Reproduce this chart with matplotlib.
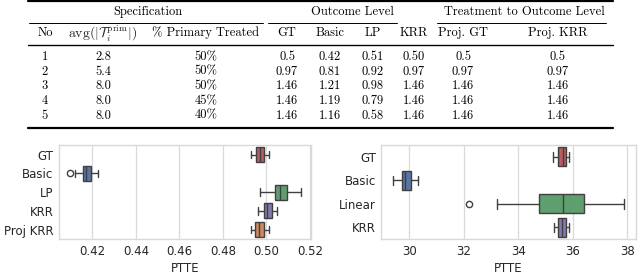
import matplotlib
matplotlib.use("Agg")
import matplotlib.pyplot as plt
import seaborn as sns

sns.set_style("whitegrid")
plt.rcParams["font.family"] = ["DejaVu Sans"]
plt.rcParams["mathtext.fontset"] = "cm"

# table contents
spec_no = ["1", "2", "3", "4", "5"]
spec_avg = ["2.8", "5.4", "8.0", "8.0", "8.0"]
spec_pct = ["50%", "50%", "50%", "45%", "40%"]
out_gt = ["0.5", "0.97", "1.46", "1.46", "1.46"]
out_basic = ["0.42", "0.81", "1.21", "1.19", "1.16"]
out_lp = ["0.51", "0.92", "0.98", "0.79", "0.58"]
out_krr = ["0.50", "0.97", "1.46", "1.46", "1.46"]
proj_gt = ["0.5", "0.97", "1.46", "1.46", "1.46"]
proj_krr = ["0.5", "0.97", "1.46", "1.46", "1.46"]
col_headers = ["No", r"$\mathrm{avg}(|\mathcal{T}_i^{\mathrm{prim}}|)$", "% Primary Treated",
               "GT", "Basic", "LP", "KRR", "Proj. GT", "Proj. KRR"]
group_headers = ["Specification", "Outcome Level", "Treatment to Outcome Level"]

# box plot summaries
left_labels = ["GT", "Basic", "LP", "KRR", "Proj KRR"]
left_lo = [0.4931, 0.4120, 0.4969, 0.4961, 0.4931]
left_q1 = [0.4954, 0.4156, 0.5038, 0.4987, 0.4949]
left_med = [0.4970, 0.4172, 0.5061, 0.5003, 0.4968]
left_q3 = [0.4988, 0.4194, 0.5095, 0.5025, 0.4988]
left_hi = [0.5014, 0.4225, 0.5161, 0.5049, 0.5014]
left_fliers = [[], [0.4095], [], [], []]

right_labels = ["GT", "Basic", "Linear", "KRR"]
right_lo = [35.28, 29.39, 33.22, 35.31]
right_q1 = [35.47, 29.73, 34.77, 35.44]
right_med = [35.65, 29.83, 35.65, 35.59]
right_q3 = [35.74, 30.07, 36.41, 35.74]
right_hi = [35.87, 30.31, 37.88, 35.86]
right_fliers = [[], [], [32.18], []]

deep = sns.color_palette("deep")
red, blue, green, purple, orange = [sns.desaturate(deep[i], 0.75) for i in (3, 0, 2, 4, 1)]
left_colors = [red, blue, green, purple, orange]
right_colors = [red, blue, green, purple]

fig = plt.figure(figsize=(6.4, 2.78), dpi=100)

# ---- table ----
tab = fig.add_axes([0, 0, 1, 1])
tab.set_xlim(0, 640)
tab.set_ylim(278, 0)
tab.axis("off")
serif = dict(fontfamily="cmr10", fontsize=9, ha="center", va="center", color="black")

tab.plot([28, 613], [1, 1], color="black", lw=1.6)
tab.plot([28, 613], [45, 45], color="black", lw=1.0)
tab.plot([28, 613], [128, 128], color="black", lw=1.6)
for x0, x1 in [(29, 263), (268, 397), (437, 606)]:
    tab.plot([x0, x1], [23, 23], color="black", lw=0.7)

for x, t in zip([148, 352, 524], group_headers):
    tab.text(x, 12, t, **serif)

col_x = [45, 103, 206, 287, 330, 373, 414, 463, 558]
for x, t in zip(col_x, col_headers):
    if t.startswith("$"):
        tab.text(x, 33, t, fontsize=10, ha="center", va="center")
    else:
        tab.text(x, 33, t, **serif)

columns = [spec_no, spec_avg, spec_pct, out_gt, out_basic, out_lp, out_krr, proj_gt, proj_krr]
row_y = [57, 71.5, 86, 101, 115.5]
for x, col in zip(col_x, columns):
    for y, t in zip(row_y, col):
        tab.text(x, y, t, **serif)


def stats(labels, lo, q1, med, q3, hi, fl):
    return [dict(label=l, whislo=a, q1=b, med=c, q3=d, whishi=e, fliers=f)
            for l, a, b, c, d, e, f in zip(labels, lo, q1, med, q3, hi, fl)]


def draw(ax, st, colors):
    n = len(st)
    line = "0.25"
    bp = ax.bxp(st, positions=range(n), vert=False, widths=0.8, patch_artist=True,
                boxprops=dict(edgecolor=line, linewidth=1.0),
                whiskerprops=dict(color=line, linewidth=1.0),
                capprops=dict(color=line, linewidth=1.0),
                medianprops=dict(color=line, linewidth=1.0),
                flierprops=dict(marker="o", markerfacecolor="white",
                                markeredgecolor=line, markersize=4.5))
    for patch, c in zip(bp["boxes"], colors):
        patch.set_facecolor(c)
    ax.set_ylim(n - 0.5, -0.5)
    ax.set_xlabel("PTTE", fontsize=8.5, color="0.15", labelpad=3)
    ax.tick_params(labelsize=8.5, colors="0.15", length=0, pad=4)
    ax.grid(axis="y", visible=False)
    ax.grid(axis="x", color="0.85", linewidth=0.9)
    for s in ax.spines.values():
        s.set_color("0.85")
        s.set_linewidth(1.0)


ax1 = fig.add_axes([0.092, 0.140, 0.394, 0.338])
draw(ax1, stats(left_labels, left_lo, left_q1, left_med, left_q3, left_hi, left_fliers), left_colors)
ax1.set_xlim(0.4046, 0.5205)
ax1.set_xticks([0.42, 0.44, 0.46, 0.48, 0.50, 0.52])
ax1.set_xticklabels(["0.42", "0.44", "0.46", "0.48", "0.50", "0.52"])

ax2 = fig.add_axes([0.596, 0.140, 0.397, 0.338])
draw(ax2, stats(right_labels, right_lo, right_q1, right_med, right_q3, right_hi, right_fliers), right_colors)
ax2.set_xlim(28.97, 38.30)
ax2.set_xticks([30, 32, 34, 36, 38])

fig.savefig("out.png", dpi=100)
